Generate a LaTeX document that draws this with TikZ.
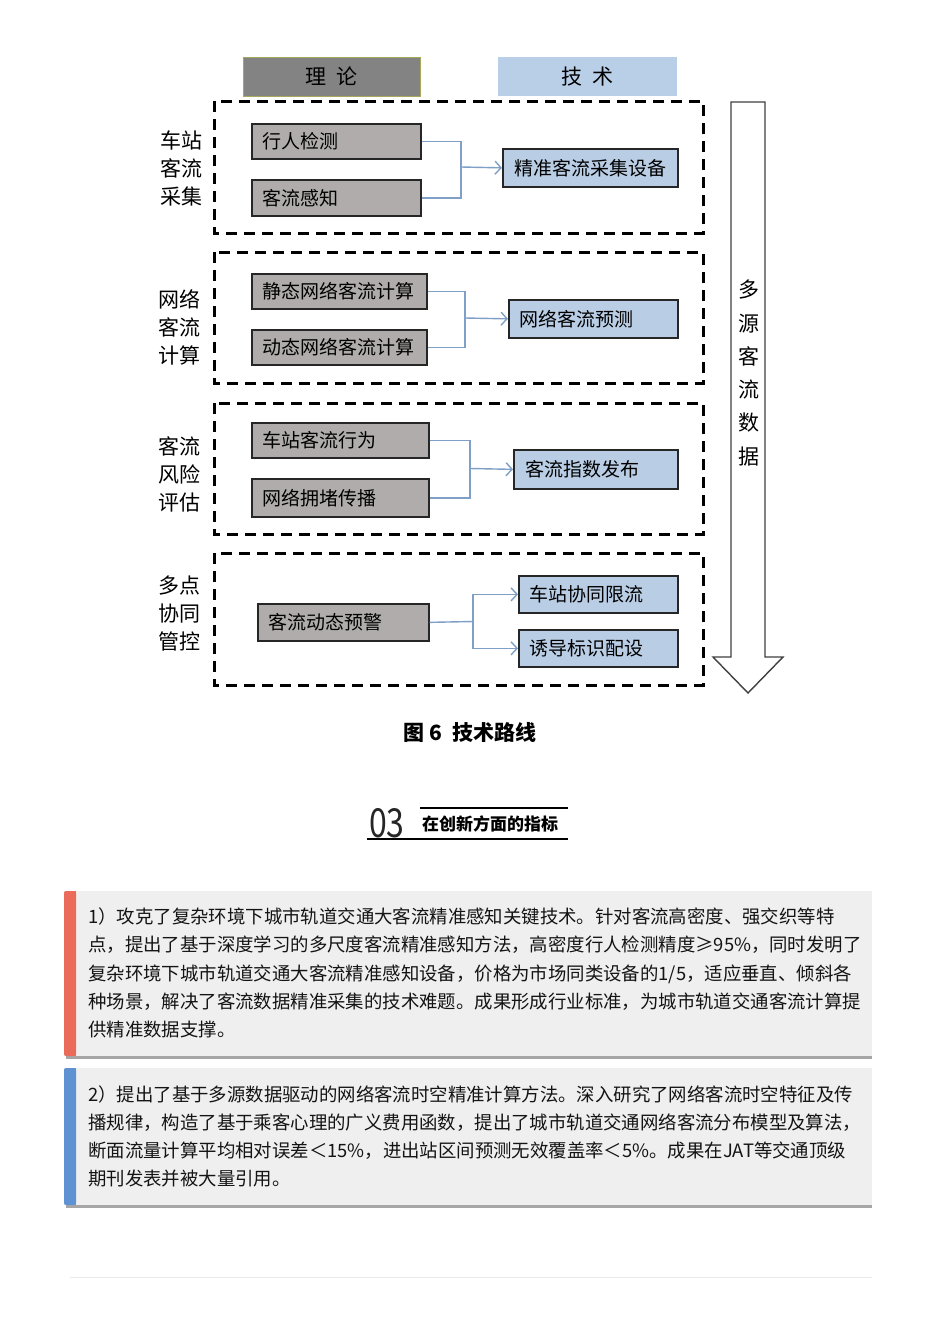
\documentclass[tikz,border=0pt]{standalone}
\usepackage{fontspec}
\newfontfamily\cjk{Noto Sans CJK SC}
\usetikzlibrary{arrows.meta,positioning}
\definecolor{hdgray}{HTML}{838383}
\definecolor{boxgray}{HTML}{B0ACAC}
\definecolor{techblue}{HTML}{B9CDE5}
\definecolor{hdblue}{HTML}{B9CFE8}
\definecolor{linkblue}{HTML}{7F9FC6}
\definecolor{panel}{HTML}{EFEFEF}
\definecolor{redbar}{HTML}{EB6B5B}
\definecolor{bluebar}{HTML}{5E92D3}
\tikzset{
  theory/.style={draw=black!85, line width=1.7pt, fill=boxgray, anchor=north west, inner sep=0pt},
  tech/.style={draw=black!85, line width=1.7pt, fill=techblue, anchor=north west, inner sep=0pt},
  btxt/.style={anchor=west, inner sep=0pt, font=\cjk\fontsize{19}{22}\selectfont},
  group/.style={draw=black, line width=3pt, dash pattern=on 11pt off 7pt},
  side/.style={font=\cjk\fontsize{21}{28}\selectfont, align=center},
  link/.style={draw=linkblue, line width=1.4pt},
  linkarrow/.style={link, -{Straight Barb[length=6pt,width=13pt,line width=1.4pt]}},
  para/.style={anchor=base west, inner sep=0pt, font=\cjk\fontsize{18.4}{22}\selectfont, text=black!92}
}
\begin{document}
\begin{tikzpicture}[x=1pt,y=-1pt]
\useasboundingbox (0,0) rectangle (934,1322);
\fill[white] (0,0) rectangle (934,1322);

% headers
\node[fill=hdgray, draw=hdgray!70!yellow, line width=0.6pt, minimum width=177pt, minimum height=39pt, inner sep=0pt, font=\cjk\fontsize{21}{24}\selectfont] (hdtheory) at (331.5,76.5) {理\ \ 论};
\node[fill=hdblue, minimum width=179pt, minimum height=39pt, inner sep=0pt, font=\cjk\fontsize{21}{24}\selectfont] (hdtech) at (587.5,76.5) {技\ \ 术};

% dashed groups
\draw[group] (214,101) rectangle (703,233);
\draw[group] (214,252) rectangle (703,383);
\draw[group] (214,403) rectangle (703,534);
\draw[group] (214,553) rectangle (703,685);

% side labels
\node[side] (s1) at (181,168) {车站\\客流\\采集};
\node[side] (s2) at (179,327) {网络\\客流\\计算};
\node[side] (s3) at (179,474) {客流\\风险\\评估};
\node[side] (s4) at (179,614) {多点\\协同\\管控};

% group 1
\node[theory, minimum width=169pt, minimum height=35pt] (a1) at (251,123) {};
\node[btxt] at ([xshift=11pt]a1.west) {行人检测};
\node[theory, minimum width=169pt, minimum height=36pt] (a2) at (251,179) {};
\node[btxt] at ([xshift=11pt]a2.west) {客流感知};
\node[tech, minimum width=175pt, minimum height=38pt] (t1) at (502,148) {};
\node[btxt] at ([xshift=12pt]t1.west) {精准客流采集设备};
\coordinate (j1) at (461,167);
\draw[link] (a1.east) -| (j1) |- (a2.east);
\draw[linkarrow] (j1) -- (t1.west);

% group 2
\node[theory, minimum width=175pt, minimum height=35pt] (b1) at (251,273) {};
\node[btxt] at ([xshift=11pt]b1.west) {静态网络客流计算};
\node[theory, minimum width=175pt, minimum height=35pt] (b2) at (251,329) {};
\node[btxt] at ([xshift=11pt]b2.west) {动态网络客流计算};
\node[tech, minimum width=169pt, minimum height=38pt] (t2) at (508,299) {};
\node[btxt] at ([xshift=11pt]t2.west) {网络客流预测};
\coordinate (j2) at (465,318);
\draw[link] (b1.east) -| (j2) |- (b2.east);
\draw[linkarrow] (j2) -- (t2.west);

% group 3
\node[theory, minimum width=177pt, minimum height=35pt] (c1) at (251,422) {};
\node[btxt] at ([xshift=11pt]c1.west) {车站客流行为};
\node[theory, minimum width=177pt, minimum height=38pt] (c2) at (251,478) {};
\node[btxt] at ([xshift=11pt]c2.west) {网络拥堵传播};
\node[tech, minimum width=164pt, minimum height=39pt] (t3) at (513,449) {};
\node[btxt] at ([xshift=12pt]t3.west) {客流指数发布};
\coordinate (j3) at (470,468.5);
\draw[link] (c1.east) -| (j3) |- (c2.east);
\draw[linkarrow] (j3) -- (t3.west);

% group 4
\node[theory, minimum width=171pt, minimum height=37pt] (d1) at (257,603) {};
\node[btxt] at ([xshift=11pt]d1.west) {客流动态预警};
\node[tech, minimum width=159pt, minimum height=37pt] (t4) at (518,575) {};
\node[btxt] at ([xshift=11pt]t4.west) {车站协同限流};
\node[tech, minimum width=159pt, minimum height=37pt] (t5) at (518,629) {};
\node[btxt] at ([xshift=11pt]t5.west) {诱导标识配设};
\coordinate (j4) at (473,621.5);
\draw[link] (d1.east) -- (j4);
\draw[linkarrow] (j4) |- (t4.west);
\draw[linkarrow] (j4) |- (t5.west);

% big arrow
\draw[black!75, line width=1.4pt, fill=white] (731,102) -- (765,102) -- (765,657) -- (783,657) -- (748,693) -- (713,657) -- (731,657) -- cycle;
\node[font=\cjk\fontsize{21}{33.3}\selectfont, align=center] (flowtxt) at (749,373) {多\\源\\客\\流\\数\\据};

% caption
\node[font=\cjk\bfseries\fontsize{21}{24}\selectfont] (cap) at (470,732) {图 6\ \ 技术路线};

% section title
\node[font=\cjk\fontsize{40}{40}\selectfont\addfontfeatures{FakeStretch=0.8}, anchor=base west, inner sep=0pt, text=black!85] (num) at (369,837) {03};
\node[font=\cjk\bfseries\fontsize{17}{20}\selectfont, anchor=base west, inner sep=0pt] (sect) at (422,830) {在创新方面的指标};
\draw[line width=1.5pt] (420,808) -- (568,808);
\draw[line width=1.5pt] (367,839) -- (568,839);

% panel 1
\fill[black!35] (66,893) rectangle (872,1059);
\fill[panel] (64,891) rectangle (872,1056);
\fill[redbar, rounded corners=2pt] (64,891) rectangle (76,1056);
\fill[redbar] (70,891) rectangle (76,1056);
\node[para] (p1a) at (88,923) {1）攻克了复杂环境下城市轨道交通大客流精准感知关键技术。针对客流高密度、强交织等特};
\node[para] (p1b) at (88,951) {点，提出了基于深度学习的多尺度客流精准感知方法，高密度行人检测精度≥95\%，同时发明了};
\node[para] (p1c) at (88,980) {复杂环境下城市轨道交通大客流精准感知设备，价格为市场同类设备的1/5，适应垂直、倾斜各};
\node[para] (p1d) at (88,1008) {种场景，解决了客流数据精准采集的技术难题。成果形成行业标准，为城市轨道交通客流计算提};
\node[para] (p1e) at (88,1036) {供精准数据支撑。};

% panel 2
\fill[black!35] (66,1070) rectangle (872,1208);
\fill[panel] (64,1068) rectangle (872,1205);
\fill[bluebar, rounded corners=2pt] (64,1068) rectangle (76,1205);
\fill[bluebar] (70,1068) rectangle (76,1205);
\node[para] (p2a) at (88,1101) {2）提出了基于多源数据驱动的网络客流时空精准计算方法。深入研究了网络客流时空特征及传};
\node[para] (p2b) at (88,1129) {播规律，构造了基于乘客心理的广义费用函数，提出了城市轨道交通网络客流分布模型及算法，};
\node[para] (p2c) at (88,1157) {断面流量计算平均相对误差＜15\%，进出站区间预测无效覆盖率＜5\%。成果在JAT等交通顶级};
\node[para] (p2d) at (88,1185) {期刊发表并被大量引用。};

% bottom rule
\draw[black!8, line width=1pt] (70,1277) -- (872,1277);
\end{tikzpicture}
\end{document}
